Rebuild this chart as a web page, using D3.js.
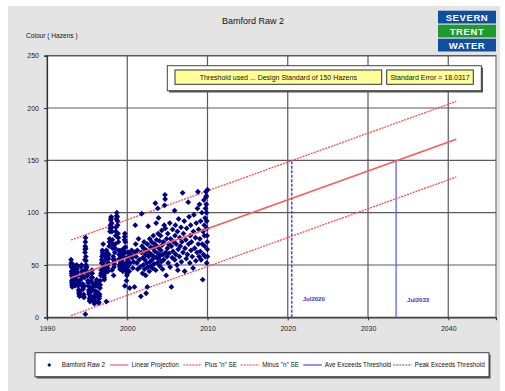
<!DOCTYPE html>
<html>
<head>
<meta charset="utf-8">
<script src="https://cdn.jsdelivr.net/npm/d3@7"></script>
<style>
  body { margin: 0; background: #fff; }
  svg { display: block; font-family: "Liberation Sans", Arial, sans-serif; }
</style>
</head>
<body>
<div id="chart"></div>
<script>
// Sample results: [decimal year, colour in Hazens]
const samples1990s = [
  [1993.00,55],[1993.02,52],[1993.04,48],[1993.06,44],[1993.08,40],[1993.10,35],[1993.12,31],[1993.14,29],
  [1993.18,33],[1993.22,38],[1993.26,45],[1993.30,50],[1993.34,48],[1993.38,42],[1993.42,37],[1993.46,32],
  [1993.50,30],[1993.55,36],[1993.60,42],[1993.65,47],[1993.70,50],[1993.75,46],[1993.80,40],[1993.85,35],
  [1993.90,30],[1993.95,26],[1994.00,22],[1994.05,20],[1994.10,25],[1994.15,32],[1994.20,40],[1994.25,48],
  [1994.30,50],[1994.35,44],[1994.40,38],[1994.45,32],[1994.50,27],[1994.55,22],[1994.60,19],[1994.65,30],
  [1994.70,45],[1994.72,55],[1994.74,62],[1994.76,68],[1994.78,72],[1994.80,76],[1994.78,3],[1994.82,66],
  [1994.84,58],[1994.86,50],[1994.88,47],[1994.95,48],[1995.00,44],[1995.05,40],[1995.10,35],[1995.15,30],
  [1995.20,26],[1995.25,22],[1995.30,18],[1995.35,15],[1995.40,20],[1995.45,28],[1995.50,35],[1995.55,42],
  [1995.60,45],[1995.65,38],[1995.70,32],[1995.75,26],[1995.80,20],[1995.85,15],[1995.90,13],[1995.95,16],
  [1996.00,20],[1996.05,25],[1996.10,30],[1996.15,34],[1996.20,36],[1996.25,30],[1996.30,24],[1996.35,19],
  [1996.40,15],[1996.45,14],[1996.50,18],[1996.55,22],[1996.60,28],[1996.65,35],[1996.70,40],[1996.75,45],
  [1996.80,52],[1996.85,58],[1996.90,64],[1996.95,60],[1997.00,52],[1997.05,45],[1997.10,40],[1997.15,36],
  [1997.20,42],[1997.25,48],[1997.30,55],[1997.35,60],[1997.40,64],[1997.40,15],[1997.50,58],[1997.55,50],
  [1997.60,44],[1997.65,52],[1997.70,60],[1997.75,68],[1997.80,75],[1997.85,82],[1997.90,88],[1997.95,93],
  [1998.00,96],[1998.05,90],[1998.10,82],[1998.15,74],[1998.20,66],[1998.25,58],[1998.30,52],[1998.35,48],
  [1998.40,55],[1998.45,62],[1998.50,70],[1998.55,78],[1998.60,86],[1998.65,94],[1998.70,100],[1998.75,96],
  [1998.80,88],[1998.85,80],[1998.90,72],[1998.95,64],[1999.00,56],[1999.05,50],[1999.10,46],[1999.15,52],
  [1999.20,58],[1999.25,64],[1999.30,60],[1999.35,54],[1999.40,48],[1999.45,44],[1999.50,50],[1999.55,58],
  [1999.60,66],[1999.65,74],[1999.70,80],[1999.75,72],[1999.80,62],[1999.85,52],[1999.90,45],[1999.95,40],
  [1999.70,30],[1999.90,35],[1998.30,40],[1997.00,70],[1998.10,45],
  [1993.03,50],[1993.07,42],[1993.11,33],[1993.20,36],[1993.28,47],[1993.36,45],[1993.44,34],[1993.58,39],
  [1993.68,49],[1993.78,43],[1993.88,32],[1993.98,24],[1994.08,22],[1994.18,36],[1994.28,49],[1994.38,41],
  [1994.48,29],[1994.58,20],[1994.68,38],[1994.75,65],[1994.85,54],[1995.03,42],[1995.13,33],[1995.23,24],
  [1995.33,16],[1995.43,24],[1995.53,38],[1995.63,42],[1995.73,29],[1995.83,17],[1995.93,14],[1996.03,22],
  [1996.13,32],[1996.23,33],[1996.33,21],[1996.43,14],[1996.53,20],[1996.63,31],[1996.73,42],[1996.83,55],
  [1996.93,62],[1997.03,48],[1997.13,38],[1997.23,45],[1997.33,58],[1997.48,62],[1997.58,47],[1997.68,56],
  [1997.78,72],[1997.88,85],[1997.98,95],[1998.08,86],[1998.18,70],[1998.28,55],[1998.38,51],[1998.48,66],
  [1998.58,82],[1998.68,97],[1998.78,92],[1998.88,76],[1998.98,60],[1999.08,48],[1999.18,55],[1999.28,62],
  [1999.38,51],[1999.48,47],[1999.58,62],[1999.68,77],[1999.78,67],[1999.88,48],[1999.98,42]
];

const samples2000s = [
  [2000.02,42],[2000.05,48],[2000.08,55],[2000.12,62],[2000.15,58],[2000.20,50],[2000.25,44],[2000.30,28],
  [2000.35,52],[2000.45,60],[2000.55,64],[2000.60,57],[2000.70,47],[2000.80,53],[2000.90,29],[2000.95,62],
  [2001.00,88],[2001.05,70],[2001.10,58],[2001.20,52],[2001.25,64],[2001.30,46],[2001.40,75],[2001.50,55],
  [2001.60,48],[2001.70,20],[2001.75,62],[2001.80,99],[2001.85,68],[2001.90,42],[2001.95,57],
  [2002.00,50],[2002.05,66],[2002.10,72],[2002.15,46],[2002.20,55],[2002.25,60],[2002.30,40],[2002.35,23],
  [2002.40,64],[2002.45,52],[2002.50,29],[2002.50,70],[2002.55,48],[2002.60,87],[2002.65,58],[2002.70,62],
  [2002.75,44],[2002.80,75],[2002.85,53],[2002.90,67],[2002.95,49],
  [2003.00,60],[2003.05,72],[2003.10,55],[2003.15,47],[2003.20,66],[2003.25,78],[2003.30,58],[2003.35,51],
  [2003.40,70],[2003.45,63],[2003.50,109],[2003.55,45],[2003.60,90],[2003.62,57],[2003.65,74],[2003.70,68],
  [2003.75,52],[2003.80,104],[2003.82,61],[2003.85,80],[2003.90,95],[2003.92,56],[2003.95,66],
  [2004.00,73],[2004.05,49],[2004.10,59],[2004.15,78],[2004.20,64],[2004.25,53],[2004.30,83],[2004.35,69],
  [2004.40,46],[2004.45,60],[2004.50,72],[2004.55,55],[2004.60,88],[2004.65,107],[2004.70,117],[2004.72,113],
  [2004.75,85],[2004.80,62],[2004.85,40],[2004.90,75],[2004.95,58],
  [2005.00,66],[2005.05,80],[2005.10,52],[2005.15,70],[2005.20,61],[2005.30,90],[2005.35,48],[2005.40,75],
  [2005.50,29],[2005.50,68],[2005.60,57],[2005.65,84],[2005.70,63],[2005.80,72],[2005.90,102],[2005.92,55],
  [2005.95,78],
  [2006.00,88],[2006.05,60],[2006.10,70],[2006.20,50],[2006.25,82],[2006.30,45],[2006.35,65],[2006.40,94],
  [2006.50,58],[2006.55,76],[2006.60,68],[2006.70,86],[2006.75,53],[2006.80,72],[2006.90,119],[2006.95,62],
  [2007.00,80],[2007.10,92],[2007.15,44],[2007.20,66],[2007.30,74],[2007.35,56],[2007.40,85],[2007.50,60],
  [2007.60,110],[2007.65,70],[2007.70,96],[2007.80,52],[2007.85,78],[2007.90,88],[2007.95,64],
  [2008.00,72],[2008.10,58],[2008.20,47],[2008.25,82],[2008.30,98],[2008.40,66],[2008.50,76],[2008.55,54],
  [2008.60,90],[2008.70,62],[2008.75,104],[2008.80,120],[2008.85,70],[2008.90,84],[2008.95,58],
  [2009.00,108],[2009.05,75],[2009.10,63],[2009.15,92],[2009.20,55],[2009.30,100],[2009.35,70],[2009.40,36],
  [2009.45,82],[2009.50,60],[2009.55,112],[2009.60,88],[2009.62,78],[2009.65,68],[2009.70,95],[2009.72,58],
  [2009.75,104],[2009.80,120],[2009.82,115],[2009.85,108],[2009.87,100],[2009.90,92],[2009.92,85],
  [2009.94,78],[2009.96,72],[2009.98,65],[2010.00,58],[2010.00,122],[2009.90,52],[2009.85,116]
];

// Regression projection and +/- n*SE bands (n = 2)
const projYears = [1993.0, 2041.0];
const linearProjection = [37.8, 170.2];
const plusSE = [73.9, 206.3];
const minusSE = [1.7, 134.1];

const threshold = 150;
const standardError = 18.0317;
const aveExceedsYear = 2033.5;   // Jul2033
const peakExceedsYear = 2020.5;  // Jul2020

const xTicks = [1990, 2000, 2010, 2020, 2030, 2040];
const yTicks = [0, 50, 100, 150, 200, 250];

const legendItems = [
  { label: 'Bamford Raw 2', type: 'marker' },
  { label: 'Linear Projection', type: 'line', color: '#ff5a5a', dash: null },
  { label: 'Plus "n" SE', type: 'line', color: '#ff3333', dash: '2,1' },
  { label: 'Minus "n" SE', type: 'line', color: '#ff3333', dash: '2,1' },
  { label: 'Ave Exceeds Threshold', type: 'line', color: '#4444ff', dash: null },
  { label: 'Peak Exceeds Threshold', type: 'line', color: '#4444ff', dash: '2,1' }
];

const W = 505, H = 391;
const svg = d3.select('#chart').append('svg')
  .attr('width', W).attr('height', H);

// panel background
svg.append('rect').attr('x', 8).attr('y', 6).attr('width', 492).attr('height', 385)
  .attr('fill', '#e4e4e4');

const plot = { left: 47, right: 496, top: 55.7, bottom: 317.3 };

const x = d3.scaleLinear().domain([1990, 2045.95]).range([plot.left, plot.right]);
const y = d3.scaleLinear().domain([0, 250]).range([plot.bottom, plot.top]);

// plot area
svg.append('rect')
  .attr('x', plot.left).attr('y', plot.top)
  .attr('width', plot.right - plot.left).attr('height', plot.bottom - plot.top)
  .attr('fill', '#fff').attr('stroke', '#8c8c8c').attr('stroke-width', 1.5);

// gridlines
svg.append('g').selectAll('line').data(xTicks.slice(1)).enter().append('line')
  .attr('x1', d => x(d)).attr('x2', d => x(d))
  .attr('y1', plot.top).attr('y2', plot.bottom)
  .attr('stroke', '#5a5a5a').attr('stroke-width', 1.2);
svg.append('g').selectAll('line').data(yTicks.slice(1)).enter().append('line')
  .attr('x1', plot.left).attr('x2', plot.right)
  .attr('y1', d => y(d)).attr('y2', d => y(d))
  .attr('stroke', '#5a5a5a').attr('stroke-width', 1.2);

// axes
const yAxis = svg.append('g')
  .attr('transform', 'translate(' + plot.left + ',0)')
  .call(d3.axisLeft(y).tickValues(yTicks).tickSize(3).tickPadding(5));
const xAxis = svg.append('g')
  .attr('transform', 'translate(0,' + plot.bottom + ')')
  .call(d3.axisBottom(x).tickValues(xTicks).tickFormat(d3.format('d')).tickSize(3).tickPadding(6));
[yAxis, xAxis].forEach(a => {
  a.select('.domain').attr('stroke', '#333').attr('stroke-width', 1.2);
  a.selectAll('.tick line').attr('stroke', '#333');
  a.selectAll('text').attr('font-size', 7).attr('fill', '#222')
    .attr('font-family', '"Liberation Sans", Arial, sans-serif');
});

// threshold crossing lines
svg.append('line')
  .attr('x1', x(peakExceedsYear)).attr('x2', x(peakExceedsYear))
  .attr('y1', y(0)).attr('y2', y(threshold))
  .attr('stroke', '#4444ff').attr('stroke-width', 1.5).attr('stroke-dasharray', '3,1.5');
svg.append('line')
  .attr('x1', x(aveExceedsYear)).attr('x2', x(aveExceedsYear))
  .attr('y1', y(0)).attr('y2', y(threshold))
  .attr('stroke', '#6060ff').attr('stroke-width', 1.3);

// projection lines
const line = d3.line().x(d => x(d[0])).y(d => y(d[1]));
const lineData = vals => projYears.map((yr, i) => [yr, vals[i]]);
svg.append('path').datum(lineData(plusSE)).attr('d', line)
  .attr('fill', 'none').attr('stroke', '#ff4d4d').attr('stroke-width', 1.3).attr('stroke-dasharray', '2,1');
svg.append('path').datum(lineData(minusSE)).attr('d', line)
  .attr('fill', 'none').attr('stroke', '#ff4d4d').attr('stroke-width', 1.3).attr('stroke-dasharray', '2,1');

// samples
const diamond = 'M0,-2.9L2.9,0L0,2.9L-2.9,0Z';
svg.append('g').selectAll('path').data(samples1990s.concat(samples2000s)).enter().append('path')
  .attr('d', diamond)
  .attr('transform', d => 'translate(' + x(d[0]) + ',' + y(d[1]) + ')')
  .attr('fill', '#000080');

svg.append('path').datum(lineData(linearProjection)).attr('d', line)
  .attr('fill', 'none').attr('stroke', '#ff5a5a').attr('stroke-width', 1.6);

// date labels
svg.append('text').attr('x', x(peakExceedsYear) + 11).attr('y', 301)
  .attr('font-size', 6).attr('font-weight', 'bold').attr('fill', '#3333cc').text('Jul2020');
svg.append('text').attr('x', x(aveExceedsYear) + 11).attr('y', 302)
  .attr('font-size', 6).attr('font-weight', 'bold').attr('fill', '#3333cc').text('Jul2033');

// annotation box
svg.append('rect').attr('x', 169).attr('y', 67.5).attr('width', 314).attr('height', 25).attr('fill', '#555');
svg.append('rect').attr('x', 167.3).attr('y', 65.7).attr('width', 314).attr('height', 25)
  .attr('fill', '#fff').attr('stroke', '#444').attr('stroke-width', 1);
svg.append('rect').attr('x', 175).attr('y', 70).attr('width', 206.7).attr('height', 14.3)
  .attr('fill', '#ffff99').attr('stroke', '#333').attr('stroke-width', 1);
svg.append('text').attr('x', 278.3).attr('y', 80).attr('text-anchor', 'middle')
  .attr('font-size', 7).attr('fill', '#111').text('Threshold used ... Design Standard of ' + threshold + ' Hazens');
svg.append('rect').attr('x', 386.7).attr('y', 70).attr('width', 86.6).attr('height', 14.3)
  .attr('fill', '#ffff99').attr('stroke', '#333').attr('stroke-width', 1);
svg.append('text').attr('x', 430).attr('y', 80).attr('text-anchor', 'middle')
  .attr('font-size', 7).attr('fill', '#111').text('Standard Error = ' + standardError);

// titles
svg.append('text').attr('x', 253).attr('y', 24).attr('text-anchor', 'middle')
  .attr('font-size', 9).attr('fill', '#111').text('Bamford Raw 2');
svg.append('text').attr('x', 26).attr('y', 37.5)
  .attr('font-size', 6.6).attr('fill', '#111').text('Colour ( Hazens )');

// logo
const logo = [
  { t: 'SEVERN', c: '#0f4fa0', y: 10.7 },
  { t: 'TRENT', c: '#1e9a2e', y: 24.7 },
  { t: 'WATER', c: '#0f4fa0', y: 38.7 }
];
logo.forEach(l => {
  svg.append('rect').attr('x', 438).attr('y', l.y).attr('width', 58).attr('height', 12.8).attr('fill', l.c);
  svg.append('text').attr('x', 467).attr('y', l.y + 10).attr('text-anchor', 'middle')
    .attr('font-size', 9.5).attr('font-weight', 'bold').attr('letter-spacing', 0.6)
    .attr('fill', '#fff').text(l.t);
});

// legend
svg.append('rect').attr('x', 36.5).attr('y', 354.5).attr('width', 454).attr('height', 24).attr('fill', '#555');
svg.append('rect').attr('x', 35).attr('y', 352.7).attr('width', 454).attr('height', 24)
  .attr('fill', '#fff').attr('stroke', '#444').attr('stroke-width', 1);
const legendX = [49.3, 110, 183.3, 240.7, 303.3, 393.3];
const ly = 365;
legendItems.forEach((it, i) => {
  const lx = legendX[i];
  let tx;
  if (it.type === 'marker') {
    svg.append('path').attr('d', 'M0,-2L2,0L0,2L-2,0Z')
      .attr('transform', 'translate(' + lx + ',' + ly + ')').attr('fill', '#000080');
    tx = lx + 12.4;
  } else {
    svg.append('line').attr('x1', lx).attr('x2', lx + 18.5).attr('y1', ly).attr('y2', ly)
      .attr('stroke', it.color).attr('stroke-width', 1.2)
      .attr('stroke-dasharray', it.dash);
    tx = lx + 21.5;
  }
  svg.append('text').attr('x', tx).attr('y', ly + 2.3)
    .attr('font-size', 6.3).attr('fill', '#111').text(it.label);
});
</script>
</body>
</html>
